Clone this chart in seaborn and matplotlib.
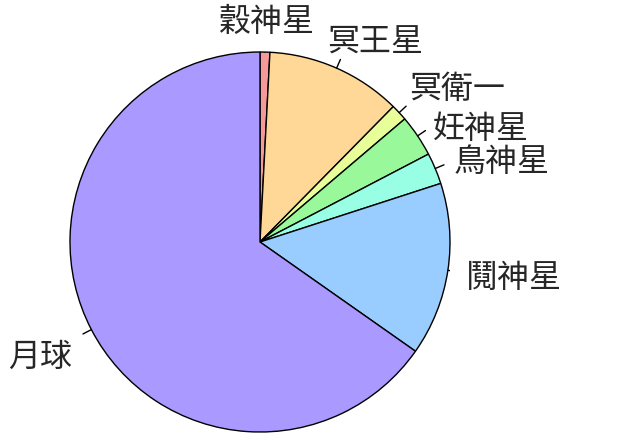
import numpy as np
import seaborn as sns
import matplotlib
matplotlib.use("Agg")
import matplotlib.pyplot as plt

# masses, 10^21 kg
bodies = ['穀神星', '冥王星', '冥衛一', '妊神星', '鳥神星', '鬩神星', '月球']
mass = [0.94, 13.0, 1.59, 4.01, 3.0, 16.6, 73.5]
colors = ['#f49a9a', '#ffd898', '#e8ff99', '#99f899', '#99ffe4', '#99ccff', '#aa99ff']

# label offsets from the tick end, in pixels (style only)
offsets = [(2, 21), (35, 17), (51, 17), (56, 2), (58, 3), (57, -6), (-43, -23)]

sns.set_theme(style="white")
plt.rcParams['font.family'] = ['Noto Sans CJK TC', 'DejaVu Sans']

fig = plt.figure(figsize=(6.4, 4.45), dpi=100)
ax = fig.add_axes([70/640, 13/445, 380/640, 380/445])

wedges, _ = ax.pie(mass, colors=colors, startangle=90, counterclock=False,
                   wedgeprops=dict(edgecolor='black', linewidth=1))

for w, name, (dx, dy) in zip(wedges, bodies, offsets):
    ang = np.deg2rad((w.theta1 + w.theta2) / 2)
    x0, y0 = np.cos(ang), np.sin(ang)
    ax.plot([x0 * 1.0, x0 * 1.05], [y0 * 1.0, y0 * 1.05], color='black', lw=1)
    ax.annotate(name, (x0 * 1.05, y0 * 1.05), xytext=(dx, dy), textcoords='offset pixels',
                ha='center', va='center', fontsize=23, annotation_clip=False)

ax.set_xlim(-1, 1)
ax.set_ylim(-1, 1)
ax.set_aspect('equal')
ax.axis('off')

fig.savefig('out.png', dpi=100)
